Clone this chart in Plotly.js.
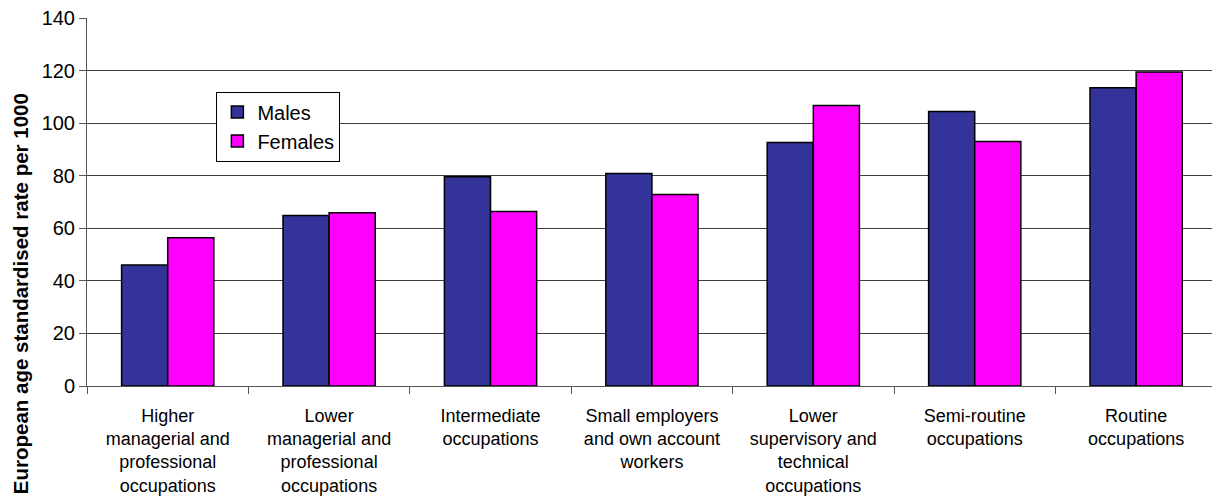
<!DOCTYPE html>
<html>
<head>
<meta charset="utf-8">
<script src="https://cdn.plot.ly/plotly-3.0.1.min.js"></script>
<style>
  html, body { margin: 0; padding: 0; background: #ffffff; }
  #chart { width: 1212px; height: 501px; }
</style>
</head>
<body>
<div id="chart"></div>
<script>
// Socio-economic classification groups (tick labels, wrapped)
const categories = [
  "Higher<br>managerial and<br>professional<br>occupations",
  "Lower<br>managerial and<br>professional<br>occupations",
  "Intermediate<br>occupations",
  "Small employers<br>and own account<br>workers",
  "Lower<br>supervisory and<br>technical<br>occupations",
  "Semi-routine<br>occupations",
  "Routine<br>occupations"
];

// European age standardised rate per 1000
const males   = [46.0, 64.9, 79.6, 80.8, 92.6, 104.4, 113.5];
const females = [56.4, 65.9, 66.4, 72.9, 106.7, 93.0, 119.5];

const yTicks = [0, 20, 40, 60, 80, 100, 120, 140];

const yTitle = "European age standardised rate per 1000";

const baseFont = "Arial, 'Liberation Sans', sans-serif";

const traces = [
  {
    type: "bar",
    name: "Males",
    x: categories,
    y: males,
    marker: { color: "#333399", line: { color: "#000000", width: 1.5 } },
    hoverinfo: "skip"
  },
  {
    type: "bar",
    name: "Females",
    x: categories,
    y: females,
    marker: { color: "#FF00FF", line: { color: "#000000", width: 1.5 } },
    hoverinfo: "skip"
  }
];

const layout = {
  width: 1212,
  height: 501,
  paper_bgcolor: "#ffffff",
  plot_bgcolor: "#ffffff",
  margin: { l: 87, r: 0, t: 18, b: 115, pad: 0 },
  barmode: "group",
  bargap: 0.4286,
  bargroupgap: 0,
  font: { family: baseFont, color: "#000000", size: 19 },
  showlegend: true,
  legend: {
    x: 0.115,
    y: 0.80,
    xanchor: "left",
    yanchor: "top",
    bgcolor: "#ffffff",
    bordercolor: "#000000",
    borderwidth: 1,
    font: { family: baseFont, size: 20, color: "#000000" },
    itemwidth: 30,
    tracegroupgap: 0
  },
  xaxis: {
    type: "category",
    range: [-0.5, 6.47],
    tickson: "boundaries",
    ticks: "outside",
    ticklen: 7,
    tickwidth: 1,
    tickcolor: "#555555",
    showline: true,
    linecolor: "#555555",
    linewidth: 1,
    showgrid: false,
    tickangle: 0,
    ticklabelstandoff: 13,
    tickfont: { family: baseFont, size: 18, color: "#000000" },
    automargin: false,
    fixedrange: true
  },
  yaxis: {
    range: [0, 140],
    tickmode: "array",
    tickvals: yTicks,
    ticktext: yTicks.map(String),
    ticks: "outside",
    ticklen: 7,
    tickwidth: 1,
    tickcolor: "#555555",
    showline: true,
    linecolor: "#555555",
    linewidth: 1,
    showgrid: true,
    gridcolor: "#404040",
    gridwidth: 1,
    zeroline: false,
    tickfont: { family: baseFont, size: 20, color: "#000000" },
    automargin: false,
    fixedrange: true
  },
  annotations: [
    {
      // vertical axis caption, set a little below the plot's middle
      text: "<b>" + yTitle + "</b>",
      xref: "paper",
      yref: "paper",
      x: -0.0596,
      y: 0.252,
      xanchor: "center",
      yanchor: "middle",
      textangle: -90,
      showarrow: false,
      font: { family: baseFont, size: 20.5, color: "#000000" }
    }
  ]
};

Plotly.newPlot("chart", traces, layout, { staticPlot: true, displayModeBar: false });
</script>
</body>
</html>
